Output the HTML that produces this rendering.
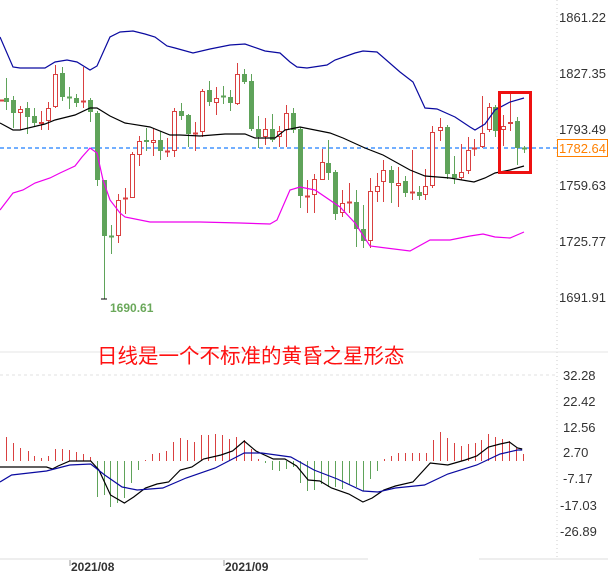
<!DOCTYPE html>
<html><head><meta charset="utf-8"><style>
html,body{margin:0;padding:0;background:#fff;width:608px;height:572px;overflow:hidden}
svg text{font-family:"Liberation Sans","Noto Sans CJK SC",sans-serif}
</style></head><body>
<svg id="s" width="608" height="572" xmlns="http://www.w3.org/2000/svg">
<line x1="557" y1="0" x2="557" y2="560" stroke="#ccc" stroke-dasharray="1,3"/>
<line x1="0" y1="352" x2="608" y2="352" stroke="#e6e6e6"/>
<line x1="0" y1="375" x2="557" y2="375" stroke="#e0e0e0" stroke-dasharray="3,3"/>
<line x1="0" y1="559" x2="368" y2="559" stroke="#ddd"/>
<line x1="479" y1="559" x2="608" y2="559" stroke="#ddd"/>
<line x1="0" y1="148" x2="557" y2="148" stroke="#1e7fff" stroke-width="1.3" stroke-dasharray="4,3"/>
<g id="c"></g>
<g font-size="13" fill="#333">
<text x="559" y="22">1861.22</text><text x="559" y="78">1827.35</text><text x="559" y="134">1793.49</text>
<text x="559" y="190">1759.63</text><text x="559" y="246">1725.77</text><text x="559" y="302">1691.91</text>
<text x="563" y="380">32.28</text><text x="563" y="406">22.42</text><text x="563" y="432">12.56</text>
<text x="563" y="457">2.70</text><text x="563" y="483">-7.17</text><text x="560" y="510">-17.03</text><text x="560" y="536">-26.89</text>
</g>
<rect x="557.5" y="139.5" width="50" height="17" fill="#fff" stroke="#ff8000"/>
<text x="559" y="153" font-size="13" fill="#ff8000">1782.64</text>
<rect x="499.5" y="92.5" width="31" height="80" fill="none" stroke="#ee1111" stroke-width="3"/>
<text x="110" y="312" font-size="12" font-weight="bold" fill="#6aa85a">1690.61</text>
<line x1="101" y1="299" x2="107" y2="299" stroke="#000"/>
<text x="97" y="363" font-size="20.5" fill="#ff1010">日线是一个不标准的黄昏之星形态</text>
<line x1="70" y1="560" x2="70" y2="566" stroke="#999"/><line x1="224" y1="560" x2="224" y2="566" stroke="#999"/>
<text x="71" y="571" font-size="12" font-weight="bold" fill="#333">2021/08</text>
<text x="225" y="571" font-size="12" font-weight="bold" fill="#333">2021/09</text>
</svg>
<script>
var g=document.getElementById('c'),NS='http://www.w3.org/2000/svg';
function el(t,a){var e=document.createElementNS(NS,t);for(var k in a)e.setAttribute(k,a[k]);g.appendChild(e);}
var C=[[1,'r',100,100,100,100],[6,'g',98,102,78,110],[13,'g',100,113,96,128],[20,'r',109,113,106,130],[27,'g',108,117,102,134],[34,'g',116,123,108,127],[41,'r',122,124,111,130],[48,'r',108,121,102,130],[55,'r',74,107,65,108],[62,'g',73,97,67,101],[69,'g',97,98,87,109],[76,'g',98,103,94,107],[83,'r',101,102,67,108],[90,'g',100,112,98,122],[97,'g',113,180,111,186],[104,'g',180,236,180,299],[111,'g',236,236,225,254],[118,'r',200,236,194,243],[125,'r',198,199,188,214],[132,'r',154,198,152,198],[139,'r',141,155,136,166],[146,'g',140,142,128,151],[153,'r',140,143,129,156],[160,'g',140,151,131,160],[167,'r',151,152,138,157],[174,'r',111,151,108,157],[181,'g',111,116,103,120],[188,'g',115,134,114,147],[195,'r',133,134,122,151],[202,'r',91,132,89,137],[209,'g',90,102,81,106],[216,'r',98,103,87,115],[223,'g',96,97,86,104],[230,'g',97,103,90,111],[237,'r',74,104,63,105],[244,'g',74,82,69,84],[251,'g',81,129,74,131],[258,'g',129,137,116,148],[265,'r',129,137,118,145],[272,'g',129,140,114,142],[279,'r',131,137,126,147],[286,'r',113,130,105,147],[293,'g',113,130,108,133],[300,'g',129,196,127,208],[307,'r',196,196,180,213],[314,'r',179,195,174,213],[322,'r',162,180,149,177],[328,'g',163,173,140,180],[335,'g',172,214,170,220],[342,'r',203,213,190,217],[349,'r',202,202,183,213],[356,'g',202,229,190,247],[363,'g',229,241,205,248],[370,'r',191,241,178,248],[377,'r',186,192,173,202],[383,'r',170,182,160,202],[391,'g',170,183,166,203],[398,'r',183,186,167,207],[405,'g',181,193,176,197],[412,'r',192,192,150,200],[419,'g',192,196,186,200],[425,'r',186,195,169,200],[432,'r',132,186,126,188],[440,'r',127,131,118,141],[447,'g',127,174,125,179],[454,'g',174,178,156,184],[461,'r',172,178,144,180],[468,'r',150,171,137,174],[474,'r',148,149,139,156],[482,'r',133,147,96,148],[489,'r',107,130,103,132],[495,'g',107,131,105,137],[503,'r',126,130,115,146],[510,'r',122,124,92,131],[517,'g',121,148,117,165],[524,'g',148,148,146,153]];
C.forEach(function(c){var x=c[0],col=c[1]=='r'?'#d94040':'#5fa35a';
el('line',{x1:x+.5,x2:x+.5,y1:c[4],y2:c[5],stroke:col});
var h=c[3]-c[2];if(h<2){el('line',{x1:x-2,x2:x+3,y1:c[2]+.5,y2:c[2]+.5,stroke:col,'stroke-width':2});}
else if(c[1]=='r')el('rect',{x:x-1.5,y:c[2]+.5,width:4,height:h-1,fill:'#fff',stroke:col});
else el('rect',{x:x-2,y:c[2],width:5,height:h,fill:col});});
function pl(p,col,f){f=f||1;p=p.split(' ').map(function(s){var a=s.split(',');return (a[0]*f).toFixed(1)+','+a[1];}).join(' ');
el('polyline',{points:p,fill:'none',stroke:col,'stroke-width':1.2});}
pl('0,37 13,67 20,68 45,68 55,62 67,60 77,62 90,70 97,66 110,37 120,32 133,31 145,34 155,37 167,46 175,48 193,53 210,49 230,45 245,44 265,51 280,53 290,62 297,67 307,68 327,65 335,60 355,53 363,51 377,52 400,72 413,82 425,108 437,109 455,117 470,127 475,130 485,124 495,110 510,102 524,98','#0a0aa0');
pl('0,123 13,130 20,130 45,124 55,120 75,115 90,108 97,108 110,116 125,123 150,127 170,135 180,135 200,136 225,134 245,134 255,138 275,138 285,130 300,127 330,133 343,138 365,148 383,155 410,170 425,176 450,178 474,182 485,178 495,173 510,170 524,166','#000');
pl('0,210 13,193 23,190 35,183 50,178 60,173 75,166 82,157 90,148 97,153 103,180 110,200 120,213 125,217 150,222 200,222 240,223 270,224 277,220 290,190 300,187 315,190 340,207 355,223 370,246 410,251 430,240 450,240 470,236 483,234 495,237 510,238 524,232','#ee00ee');
var F=1.163;
var H=[[5,437],[11,443],[17,448],[24,451],[29,456],[35,458],[41,456],[47,449],[53,449],[59,450],[65,452],[71,454],[77,457],[83,497],[89,495],[95,507],[101,503],[107,498],[113,483],[119,470],[125,460],[131,454],[137,453],[143,451],[149,442],[155,438],[161,440],[167,442],[173,435],[179,435],[185,434],[191,435],[197,439],[203,437],[210,440],[216,449],[222,459],[228,463],[234,470],[240,471],[246,469],[252,467],[258,483],[264,491],[270,490],[276,484],[282,487],[288,487],[294,489],[300,485],[306,487],[312,491],[318,479],[324,471],[330,459],[336,456],[342,453],[348,453],[354,453],[360,453],[366,453],[372,440],[378,432],[384,438],[390,443],[396,446],[402,444],[408,443],[414,440],[420,434],[426,437],[432,439],[438,441],[444,448],[450,454]];
H.forEach(function(h){var x=Math.round(h[0]*F)+.5;el('line',{x1:x,x2:x,y1:461,y2:h[1],stroke:h[1]<461?'#d94040':'#5fa35a'});});
pl('0,467 40,467 45,469 50,466 60,461 78,461 85,470 95,495 107,503 115,497 125,488 135,484 145,482 155,470 165,467 175,459 190,455 200,451 210,441 220,451 235,459 245,459 255,466 265,480 275,481 285,488 300,494 312,502 320,498 330,490 340,486 355,482 370,463 385,465 400,460 410,456 420,447 430,444 438,442 445,448 449,449','#000',F);
pl('0,482 10,475 40,471 60,465 78,464 90,475 105,487 118,490 140,488 160,478 185,468 210,453 225,453 250,457 270,470 290,479 312,491 325,492 340,488 365,485 385,474 410,465 430,454 445,450 449,450','#0a0aa0',F);
</script>
</body></html>
